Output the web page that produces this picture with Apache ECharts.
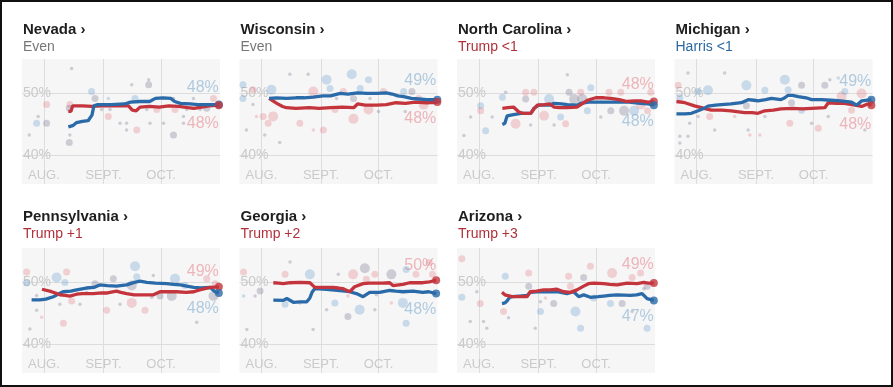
<!DOCTYPE html>
<html><head><meta charset="utf-8">
<script src="https://cdn.jsdelivr.net/npm/echarts@6/dist/echarts.min.js"></script>
<style>
html,body{margin:0;padding:0;background:#fff;}
#chart{position:absolute;left:0;top:0;width:893px;height:387px;}
#frame{position:absolute;left:0;top:0;width:893px;height:387px;box-sizing:border-box;border:2px solid #111;pointer-events:none;}
</style></head><body>
<div id="chart"></div><div id="frame"></div>
<script>
// ---------- DATA ----------
// x = days since Aug. 1, y = percent
const states = ['Nevada', 'Wisconsin', 'North Carolina', 'Michigan', 'Pennsylvania', 'Georgia', 'Arizona'];
const margins = ['Even', 'Even', 'Trump <1', 'Harris <1', 'Trump +1', 'Trump +2', 'Trump +3'];
const marginParty = ['E', 'E', 'R', 'B', 'R', 'R', 'R'];
const monthTicks = [0, 31, 61];
const monthLabels = ['AUG.', 'SEPT.', 'OCT.'];
const pctTicks = [40, 50];
const finalTrump = [48, 48, 48, 48, 49, 50, 49];
const finalHarris = [48, 49, 48, 49, 48, 48, 47];

const nevadaTrump = [[12.7,47.1],[14,47.1],[15,48.0],[20,48.0],[25,47.9],[30,48.0],[35,48.0],[40,48.0],[44,48.0],[46,47.3],[48,47.2],[50,47.8],[55,47.9],[60,47.8],[65,48.0],[70,47.9],[75,47.7],[78,47.6],[82,47.8],[86,48.0],[91,48.1]];
const nevadaHarris = [[12.7,44.6],[15,44.8],[17,45.3],[20,45.5],[23,45.6],[25,46.5],[26,48.0],[28,48.2],[35,48.2],[42,48.3],[45,48.6],[50,48.7],[55,48.7],[58,49.2],[62,49.3],[66,49.2],[68,48.7],[71,48.4],[76,48.3],[80,48.2],[85,48.2],[91,48.2]];
const wisconsinTrump = [[4,49.2],[6,48.8],[8,48.4],[11,47.9],[13,47.7],[18,47.6],[25,47.7],[30,47.6],[36,47.7],[42,47.8],[48,47.7],[50,48.3],[54,48.1],[60,48.1],[65,48.2],[70,48.5],[75,48.4],[80,48.6],[86,48.5],[91.5,48.6]];
const wisconsinHarris = [[4,49.2],[8,49.3],[13,49.2],[18,49.3],[22,49.3],[27,49.4],[32,49.6],[36,49.6],[41,50.0],[45,49.9],[50,50.1],[55,50.0],[60,50.0],[65,50.1],[68,49.9],[71,49.6],[74,49.5],[78,49.2],[82,49.1],[86,49.0],[91.5,49.0]];
const northCarolinaTrump = [[12.2,47.6],[15,47.7],[18,47.8],[20.8,47.0],[23,46.8],[27,46.8],[28.6,47.5],[30.4,48.1],[34,48.2],[37,48.3],[39,47.8],[42,47.7],[46,47.7],[51,47.8],[53,48.2],[56.4,48.9],[60.8,49.3],[65,49.3],[68.6,49.2],[73,49.0],[77,48.7],[81,48.8],[84,48.8],[88,48.6],[91,48.7]];
const northCarolinaHarris = [[12.2,45.0],[13.5,45.2],[14.7,46.4],[18,46.6],[22,46.8],[27,46.8],[28.6,47.6],[31,48.1],[37,48.1],[39,48.4],[43,48.3],[46,48.2],[51,48.1],[53,48.4],[57,48.6],[62,48.6],[68,48.6],[74,48.6],[78,48.6],[84,48.4],[88,48.3],[91,48.1]];
const michiganTrump = [[-10.4,48.7],[-6,48.5],[-1,48.0],[2.6,47.7],[5,47.5],[7.8,47.3],[13,47.3],[18,47.2],[25,46.9],[29,46.9],[32,46.8],[35.6,47.2],[40,47.3],[44,47.5],[50,47.6],[55,47.5],[60,47.6],[66.8,47.7],[68.6,48.5],[73,48.4],[77,48.4],[82.5,48.1],[86,47.9],[89,48.3],[91,48.1]];
const michiganHarris = [[-10.4,46.7],[-6,46.7],[-2.6,46.8],[0.9,47.2],[4,47.6],[6,47.95],[10,48.1],[13,48.2],[18,48.3],[23.4,48.5],[26.9,49.0],[30,48.9],[32,48.8],[36,49.0],[39,49.2],[44,49.0],[46,49.3],[47.7,49.7],[50,49.7],[53,49.5],[57,49.3],[60,49.0],[65,49.0],[70,48.9],[75,48.8],[80.7,48.6],[83.3,48.1],[86,48.8],[91,49.0]];
const pennsylvaniaTrump = [[-1,48.9],[3,48.6],[6,48.3],[8.3,48.0],[11,47.9],[13.5,47.8],[17,48.1],[20,48.2],[25.7,48.2],[30,48.3],[33,48.3],[37.8,48.6],[40,48.4],[43,48.2],[47,48.0],[52,48.0],[57,48.0],[60.4,48.5],[64,48.5],[69,48.5],[74,48.4],[78,48.5],[81,48.8],[86.5,49.2],[91,49.3]];
const pennsylvaniaHarris = [[-6.4,47.2],[-2,47.2],[1,47.3],[4.9,47.7],[8,48.2],[10,48.5],[14,48.6],[17,48.8],[22,49.1],[26,49.2],[29,49.6],[33,49.5],[37.8,49.4],[43,49.6],[47,50.0],[50,50.2],[53.5,50.0],[58,49.9],[63.9,49.8],[67.4,49.7],[71,49.6],[74.3,49.4],[78,49.2],[81.3,49.1],[86.5,49.2],[89,48.5],[91,48.3]];
const georgiaTrump = [[6.2,49.95],[9,49.9],[11.4,49.8],[14.9,49.95],[20,50.0],[25.2,49.95],[27.8,49.2],[30.4,49.2],[34,49.2],[37.3,49.2],[40,49.1],[42.5,49.0],[45.9,48.5],[48.5,49.3],[52.9,49.8],[56,49.9],[59.8,49.9],[63,49.9],[66.7,49.95],[68.4,49.5],[73.6,49.7],[77.1,49.95],[84,49.95],[87.4,50.1],[90.9,50.35]];
const georgiaHarris = [[6.2,47.15],[11.4,47.1],[13.2,47.4],[16.6,46.8],[20,46.85],[23.5,46.85],[25.2,47.5],[26.5,48.5],[27.8,49.0],[33.9,48.9],[40.8,48.7],[45.9,48.5],[49.4,48.2],[52.9,47.7],[56.3,48.4],[61.5,48.4],[66.7,48.7],[70,48.6],[73.6,48.5],[78.8,48.6],[84,48.4],[87,48.5],[90.9,48.2]];
const arizonaTrump = [[12,48.4],[13.5,48.0],[14.6,47.9],[17.2,47.7],[21,47.7],[25.1,47.7],[26.7,48.5],[30,48.6],[33.7,48.8],[37,48.8],[40.6,48.9],[44.1,48.5],[47.6,48.4],[51,48.8],[54.5,49.4],[57,49.8],[59.7,49.9],[64.9,49.8],[68,49.7],[71.9,49.6],[77.1,49.9],[82.3,49.8],[85.8,50.0],[88,49.9],[91,49.9]];
const arizonaHarris = [[12,46.6],[13.5,46.7],[14.6,47.0],[16,47.6],[17.2,47.7],[21,47.8],[25.1,47.9],[26.7,48.4],[30,48.5],[33.7,48.5],[40.6,48.5],[45.8,48.2],[49.3,48.5],[51.9,47.7],[54.5,48.0],[58,47.6],[62,47.7],[64.9,47.8],[68,47.9],[71.9,48.0],[78.8,47.9],[82,48.0],[84.9,48.2],[87.5,47.4],[91,47.1]];

// polls: [day, percent, party (R/B/G), weight 1-3]
const nevadaPolls = [[14.4,54.0,'G',1],[24.8,50.3,'B',2],[26.6,49.2,'G',2],[13.5,48.2,'R',2],[13.2,47.6,'G',2],[1.4,48.2,'R',2],[-3,46.3,'G',1],[-3.8,45.2,'B',2],[1.4,45.2,'G',2],[-7.6,43.3,'G',1],[13.2,42.1,'G',2],[13.5,43.3,'G',1],[33.5,49.2,'B',1],[33.5,46.3,'R',2],[30,47.4,'G',1],[39.6,45.2,'G',1],[43,45.2,'G',1],[43,44.1,'G',1],[48.3,44.1,'R',2],[47.4,49.2,'B',2],[45.7,51.4,'G',1],[54.5,51.4,'G',2],[54.5,52.2,'G',1],[55.2,45.2,'G',1],[62.2,45.2,'G',1],[67.4,43.3,'G',2],[67.4,49.2,'G',1],[68.2,47.4,'R',2],[74.3,47.4,'G',1],[72.6,46.3,'G',1],[81.3,47.4,'G',1],[84.7,47.6,'G',2],[88.2,49.2,'R',2],[77.8,49.2,'G',1],[72.6,45.2,'G',1],[58.7,47.4,'R',2],[53.5,47.4,'G',1],[34.4,47.4,'G',1],[37.8,48.2,'G',1]];
const wisconsinPolls = [[-9.6,51.4,'B',2],[-4.4,50.6,'R',2],[-9.6,49.2,'B',2],[-4.4,48.2,'G',1],[-2.6,46.3,'R',1],[0.9,46.3,'R',2],[6.1,46.3,'R',3],[3.5,45.2,'R',2],[5.2,50.6,'B',3],[-7.8,44.1,'G',1],[1.7,43.3,'G',1],[9.5,42.1,'G',1],[14.8,53.1,'G',1],[24.3,53.1,'G',1],[20,45.2,'R',2],[27,50.3,'R',3],[27,44.1,'R',1],[32.2,44.1,'R',2],[33.9,52.2,'B',3],[35.7,50.8,'B',2],[38.3,47.4,'R',2],[42.6,50.3,'R',2],[47,53.1,'B',3],[47.9,49.2,'G',2],[47.9,45.9,'R',3],[51.4,50.8,'B',2],[55.7,52.2,'B',2],[55.7,47.4,'R',3],[60.9,47.1,'G',1],[63.5,50.3,'R',2],[74,50.3,'B',2],[78.3,50.3,'G',2],[81.8,49.2,'R',2],[84.4,48.2,'R',3],[89.6,48.7,'B',2],[74.8,47.1,'G',1],[39.1,49.2,'G',1],[56.5,49.2,'G',1]];
const northCarolinaPolls = [[0.9,48.0,'B',2],[0.9,47.2,'R',2],[3.5,44.0,'B',2],[6.9,46.2,'G',1],[12.2,49.4,'B',2],[13.9,50.2,'G',1],[19.1,45.1,'R',3],[24.3,50.2,'R',2],[24.3,49.1,'G',2],[28.6,50.2,'R',2],[33.9,46.4,'R',3],[36.5,49.1,'B',3],[42.5,46.2,'B',2],[45.1,45.1,'R',2],[46,53.0,'G',1],[46.9,50.2,'G',2],[49.5,49.1,'G',3],[52.9,50.2,'R',2],[53.8,49.1,'G',3],[58.2,50.9,'B',2],[56.4,47.2,'B',2],[67.7,50.2,'R',2],[68.6,47.2,'G',2],[73.8,50.2,'R',2],[75.5,47.2,'G',3],[80.7,47.2,'B',3],[84.2,48.2,'R',3],[87.7,47.2,'R',2],[89.4,50.2,'R',2],[-7.8,43.2,'G',1],[-4.3,46.2,'G',1],[26.9,44.9,'G',1],[39.1,44.9,'G',1],[63.4,46.2,'G',1]];
const michiganPolls = [[-9.5,51.3,'R',2],[-8.6,49.3,'B',2],[-4.4,53.3,'G',1],[6,50.5,'B',3],[0.9,50.3,'B',2],[6.9,46.3,'R',2],[-3.5,45.2,'G',1],[0.9,46.3,'G',1],[-8.6,43.1,'G',1],[-4.4,43.1,'G',1],[-8.6,42.0,'G',1],[14.7,53.3,'G',1],[9.5,44.1,'G',1],[19.9,46.3,'R',1],[26,51.3,'B',3],[26,48.0,'G',2],[26.9,44.1,'G',1],[27.8,43.3,'R',1],[33,43.3,'R',1],[35.6,50.5,'B',2],[46,52.2,'B',3],[47.7,50.6,'B',2],[48.6,45.2,'R',2],[54.7,51.3,'G',2],[54.7,47.3,'B',2],[59.9,45.2,'G',1],[63.4,44.4,'R',2],[66.8,51.3,'G',2],[68.6,46.3,'G',1],[69.4,52.2,'G',1],[75.5,49.5,'R',3],[77.2,50.3,'B',2],[80.7,47.3,'R',2],[85.9,50.0,'R',3],[87.6,44.1,'G',1],[90.2,48.5,'G',2],[73.8,52.5,'B',1],[35.6,46.3,'G',1],[49.5,48.5,'G',2]];
const pennsylvaniaPolls = [[-9.0,51.7,'R',2],[-9.0,49.9,'B',2],[-3.8,47.9,'G',1],[-3.8,45.5,'G',1],[-7.3,42.5,'G',1],[-1.2,44.4,'R',1],[10.1,43.4,'R',2],[11.8,51.7,'R',2],[6.6,50.8,'B',3],[10.9,50.0,'B',2],[8.3,46.5,'G',1],[14.4,47.0,'R',2],[18.75,46.5,'G',1],[26.6,49.8,'G',2],[32.6,45.5,'R',2],[36.1,50.6,'G',2],[45.7,46.7,'R',3],[47.4,52.6,'B',3],[48.3,50.9,'B',2],[45.7,49.5,'G',3],[52.6,45.5,'R',2],[56.9,51.1,'G',1],[60.4,47.8,'G',2],[66.5,47.8,'G',3],[68.2,50.6,'B',3],[73.4,49.5,'B',2],[79.5,43.6,'G',1],[84.7,50.6,'R',2],[88.2,47.8,'G',3],[89.1,49.8,'R',2],[22.2,48.4,'G',1],[39.6,46.5,'G',1],[56.1,47.6,'G',1]];
const georgiaPolls = [[-9.3,51.7,'R',2],[-9.3,47.8,'B',1],[-0.7,48.6,'G',2],[-3.3,47.8,'G',1],[-7.6,42.4,'G',1],[14.9,53.3,'G',1],[12.3,51.3,'R',2],[12.3,46.5,'B',2],[20,46.7,'G',1],[25.2,51.3,'B',3],[26.9,42.4,'G',1],[33.9,45.6,'G',1],[38.2,46.7,'B',2],[40,51.3,'G',1],[45,44.5,'G',2],[45,47.8,'R',1],[47.7,51.3,'R',3],[51.1,45.6,'B',3],[53.8,52.3,'G',3],[54.6,50.5,'R',2],[59,51.3,'R',2],[59,45.6,'G',1],[67.6,51.3,'G',3],[67.6,46.7,'R',1],[73.6,46.7,'B',3],[75.3,43.4,'B',2],[75.3,52.1,'B',2],[80.4,51.3,'R',2],[87.3,53.2,'R',2],[89,51.3,'R',2],[59.8,48.0,'G',1]];
const arizonaPolls = [[-8.9,53.8,'R',2],[-8.9,47.6,'B',2],[-1.1,48.5,'G',1],[0.7,46.6,'R',2],[-4.5,43.7,'G',1],[2.4,43.7,'G',1],[4.1,42.6,'G',1],[13.7,51.0,'B',2],[12.8,45.3,'R',2],[15.4,44.3,'G',1],[25.9,51.5,'R',2],[25.9,49.4,'G',2],[32,46.9,'G',1],[32,45.3,'B',2],[34.6,47.5,'R',1],[29.3,42.6,'G',1],[38.9,46.6,'G',2],[46.7,51.0,'R',2],[47.6,49.4,'R',2],[50.2,45.3,'B',3],[52.9,42.6,'B',2],[54.5,50.8,'G',2],[58,52.6,'R',2],[59.7,47.5,'B',2],[69.3,51.5,'R',3],[68.4,46.6,'B',2],[74.5,46.6,'G',2],[79.7,50.8,'R',2],[84.1,51.5,'R',2],[87.5,42.6,'B',2],[87.5,49.4,'G',2],[79.7,45.3,'G',1],[85.8,49.0,'G',1]];

const trumpLines = [nevadaTrump, wisconsinTrump, northCarolinaTrump, michiganTrump, pennsylvaniaTrump, georgiaTrump, arizonaTrump];
const harrisLines = [nevadaHarris, wisconsinHarris, northCarolinaHarris, michiganHarris, pennsylvaniaHarris, georgiaHarris, arizonaHarris];
const polls = [nevadaPolls, wisconsinPolls, northCarolinaPolls, michiganPolls, pennsylvaniaPolls, georgiaPolls, arizonaPolls];

// ---------- LAYOUT / STYLE ----------
const FONT = '"Liberation Sans", Arial, sans-serif';
const RED = '#c4343c', BLUE = '#2b6aa8';
const X_MIN = -11.4, X_MAX = 91.6, Y_MIN = 35.4, Y_MAX = 55.55;
const labelY = [[50.9,45.2],[52.0,45.9],[51.4,45.5],[51.9,44.9],[51.8,45.8],[52.7,45.6],[52.9,44.5]];
const dotColor = {R:'rgba(222,104,116,0.34)', B:'rgba(88,148,204,0.36)', G:'rgba(100,96,126,0.34)'};
const dotSize = {1:3.5, 2:7, 3:10};
const subColor = {E:'#777777', R:'#b0303a', B:'#2c67a0'};

const grids = [], xAxes = [], yAxes = [], titles = [], series = [];
states.forEach((name, i) => {
  const row = i < 4 ? 0 : 1, col = i < 4 ? i : i - 4;
  const left = 22 + 217.5 * col;
  const top = row === 0 ? 59 : 248;
  grids.push({left: left, top: top, width: 198, height: 125, show: true, backgroundColor: '#f6f6f6', borderWidth: 0});
  titles.push({
    text: name + ' \u203a', subtext: margins[i], left: left + 1, top: row === 0 ? 22 : 209, padding: 0, itemGap: 3,
    textStyle: {fontFamily: FONT, fontSize: 15, fontWeight: 'bold', color: '#1e1e1e'},
    subtextStyle: {fontFamily: FONT, fontSize: 14, color: subColor[marginParty[i]]}
  });
  xAxes.push({
    gridIndex: i, type: 'value', min: X_MIN, max: X_MAX,
    axisLine: {show: false}, axisTick: {show: false, customValues: monthTicks},
    axisLabel: {customValues: monthTicks, inside: true, margin: 2, color: '#cacaca', fontSize: 13, fontFamily: FONT,
      formatter: v => monthLabels[monthTicks.indexOf(v)] || ''},
    splitLine: {show: true, lineStyle: {color: '#dddddd', width: 1}}
  });
  yAxes.push({
    gridIndex: i, type: 'value', min: Y_MIN, max: Y_MAX,
    axisLine: {show: false}, axisTick: {show: false, customValues: pctTicks},
    axisLabel: {customValues: pctTicks, inside: true, margin: 1, color: '#cacaca', fontSize: 14, fontFamily: FONT, formatter: '{value}%'},
    splitLine: {show: true, lineStyle: {color: '#dddddd', width: 1}}
  });
  const tr = trumpLines[i], hr = harrisLines[i];
  const tEnd = tr[tr.length - 1], hEnd = hr[hr.length - 1];
  const trumpLeads = tEnd[1] > hEnd[1];
  const topIsTrump = trumpLeads;
  const lblData = [
    {value: [X_MAX - 0.6, labelY[i][0]], label: {formatter: (topIsTrump ? finalTrump[i] : finalHarris[i]) + '%', color: topIsTrump ? '#eba4aa' : '#9dbfd9'}},
    {value: [X_MAX - 0.6, labelY[i][1]], label: {formatter: (topIsTrump ? finalHarris[i] : finalTrump[i]) + '%', color: topIsTrump ? '#9dbfd9' : '#eba4aa'}}
  ];
  series.push({type: 'scatter', xAxisIndex: i, yAxisIndex: i, z: 1, symbolSize: 0, silent: true, data: lblData,
    label: {show: true, position: 'left', distance: 0, fontSize: 16, fontFamily: FONT}});
  series.push({
    type: 'scatter', xAxisIndex: i, yAxisIndex: i, z: 2, silent: true,
    data: polls[i].map(p => ({value: [p[0], p[1]], symbolSize: dotSize[p[3]], itemStyle: {color: dotColor[p[2]]}}))
  });
  const lineT = {type: 'line', xAxisIndex: i, yAxisIndex: i, z: trumpLeads ? 4 : 3, data: tr, showSymbol: false, silent: true,
    lineStyle: {color: RED, width: 3.3}, itemStyle: {color: RED}};
  const lineH = {type: 'line', xAxisIndex: i, yAxisIndex: i, z: trumpLeads ? 3 : 4, data: hr, showSymbol: false, silent: true,
    lineStyle: {color: BLUE, width: 3.3}, itemStyle: {color: BLUE}};
  series.push(lineT, lineH);
  series.push({type: 'scatter', xAxisIndex: i, yAxisIndex: i, z: trumpLeads ? 3 : 4, symbolSize: 8, silent: true, data: [tEnd], itemStyle: {color: RED}});
  series.push({type: 'scatter', xAxisIndex: i, yAxisIndex: i, z: trumpLeads ? 4 : 3, symbolSize: 8, silent: true, data: [hEnd], itemStyle: {color: BLUE}});
});

const chart = echarts.init(document.getElementById('chart'));
chart.setOption({animation: false, backgroundColor: '#ffffff', title: titles, grid: grids, xAxis: xAxes, yAxis: yAxes, series: series});
</script>
</body></html>
